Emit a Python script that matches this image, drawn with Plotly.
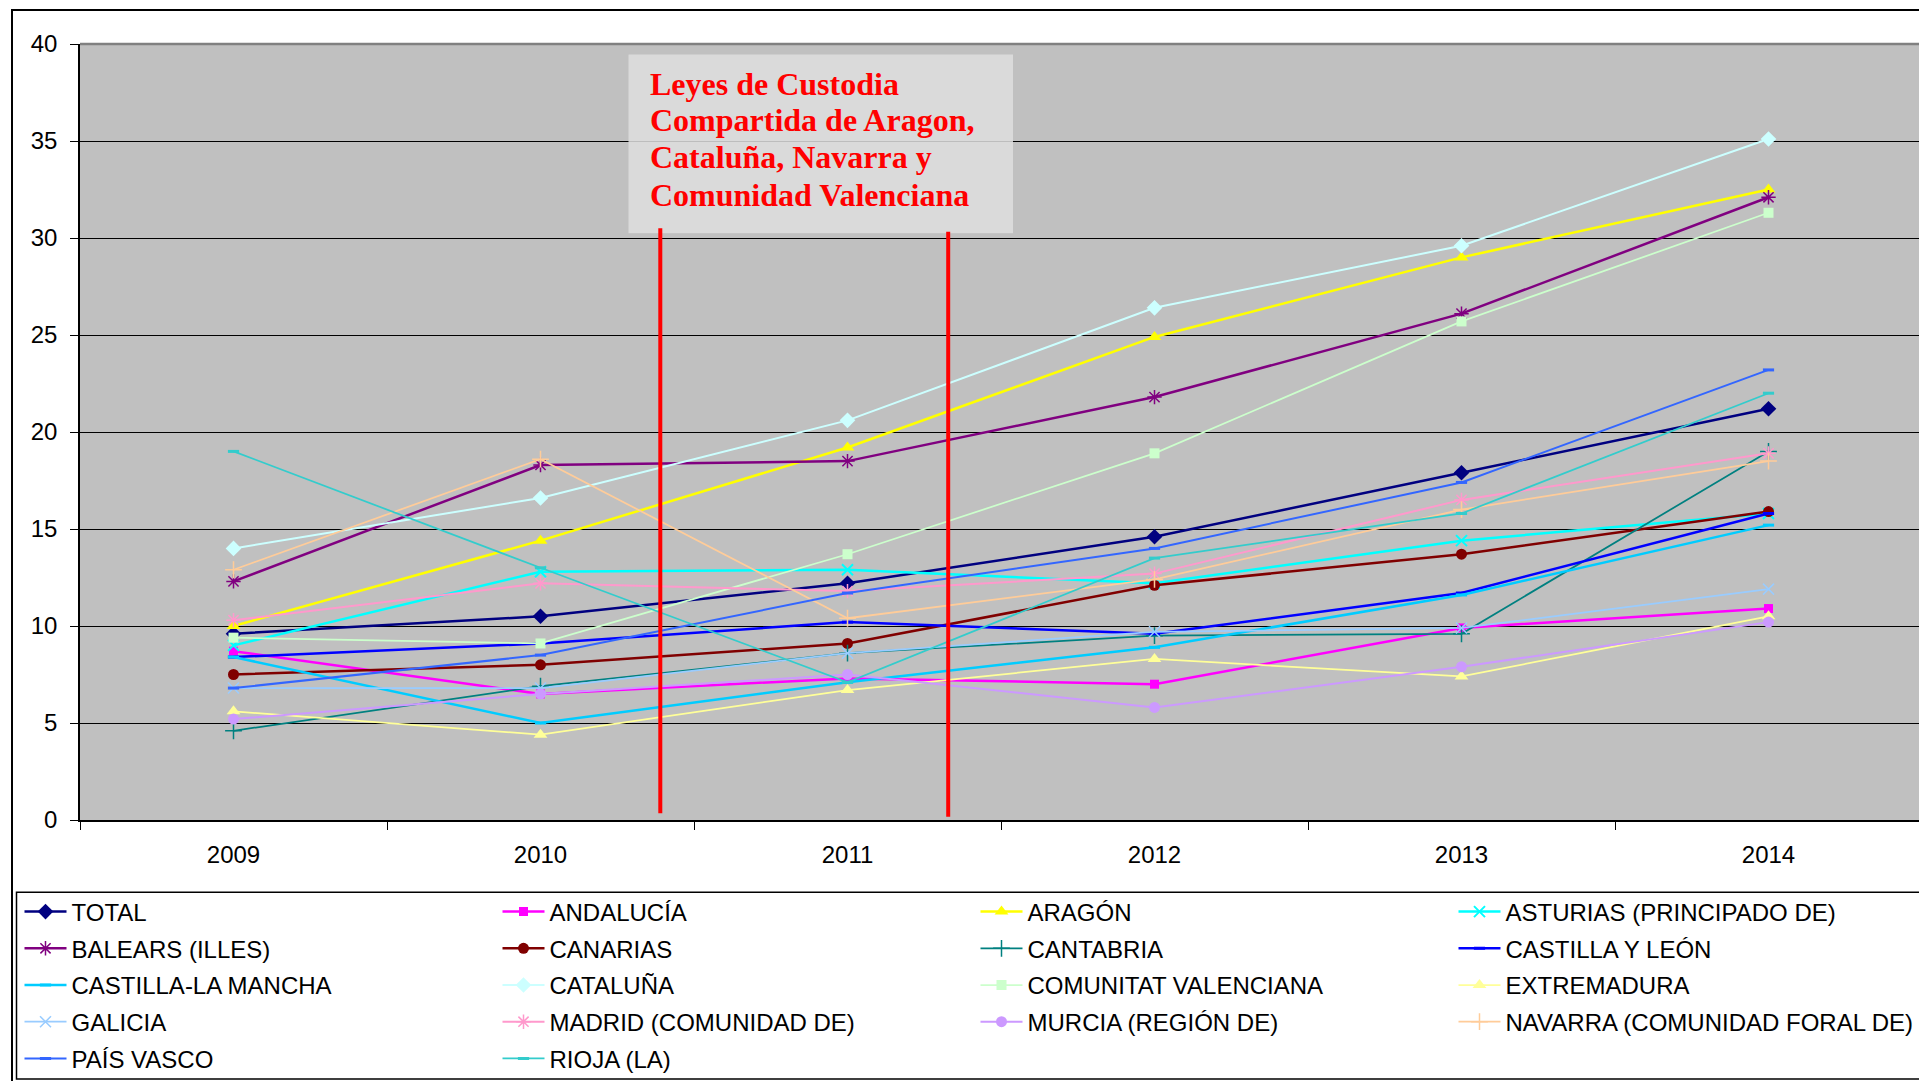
import plotly.graph_objects as go

# ---------------- data ----------------
years = ['2009', '2010', '2011', '2012', '2013', '2014']

region_names = [
    'TOTAL', 'ANDALUCÍA', 'ARAGÓN', 'ASTURIAS (PRINCIPADO DE)',
    'BALEARS (ILLES)', 'CANARIAS', 'CANTABRIA', 'CASTILLA Y LEÓN',
    'CASTILLA-LA MANCHA', 'CATALUÑA', 'COMUNITAT VALENCIANA', 'EXTREMADURA',
    'GALICIA', 'MADRID (COMUNIDAD DE)', 'MURCIA (REGIÓN DE)', 'NAVARRA (COMUNIDAD FORAL DE)',
    'PAÍS VASCO', 'RIOJA (LA)',
]

total = [9.6, 10.5, 12.2, 14.6, 17.9, 21.2]
andalucia = [8.7, 6.5, 7.3, 7.0, 9.9, 10.9]
aragon = [10.0, 14.4, 19.2, 24.9, 29.0, 32.5]
asturias = [9.0, 12.8, 12.9, 12.2, 14.4, 15.8]
baleares = [12.3, 18.3, 18.5, 21.8, 26.1, 32.1]
canarias = [7.5, 8.0, 9.1, 12.1, 13.7, 15.9]
cantabria = [4.6, 6.9, 8.6, 9.5, 9.6, 19.0]
castilla_leon = [8.4, 9.1, 10.2, 9.6, 11.7, 15.8]
castilla_mancha = [8.4, 5.0, 7.1, 8.9, 11.6, 15.2]
cataluna = [14.0, 16.6, 20.6, 26.4, 29.6, 35.1]
valenciana = [9.4, 9.1, 13.7, 18.9, 25.7, 31.3]
extremadura = [5.6, 4.4, 6.7, 8.3, 7.4, 10.5]
galicia = [6.8, 6.8, 8.6, 9.7, 9.9, 11.9]
madrid = [10.3, 12.2, 11.8, 12.7, 16.5, 18.9]
murcia = [5.2, 6.5, 7.5, 5.8, 7.9, 10.2]
navarra = [12.9, 18.6, 10.4, 12.4, 16.0, 18.5]
pais_vasco = [6.8, 8.5, 11.7, 14.0, 17.4, 23.2]
rioja = [19.0, 13.0, 7.1, 13.5, 15.8, 22.0]

series_values = [
    total, andalucia, aragon, asturias, baleares, canarias, cantabria,
    castilla_leon, castilla_mancha, cataluna, valenciana, extremadura,
    galicia, madrid, murcia, navarra, pais_vasco, rioja,
]

y_ticks = [0, 5, 10, 15, 20, 25, 30, 35, 40]

annotation_lines = [
    'Leyes de Custodia',
    'Compartida de Aragon,',
    'Cataluña, Navarra y',
    'Comunidad Valenciana',
]

# ---------------- styles ----------------
# (color, symbol, marker size, line width, open-symbol line width)
styles = [
    ('#000080', 'diamond', 12, 2.5, 0),
    ('#FF00FF', 'square', 9, 2.5, 0),
    ('#FFFF00', 'triangle-up', 12, 2.5, 0),
    ('#00FFFF', 'x-thin-open', 11, 2.5, 2),
    ('#800080', 'asterisk-open', 12, 2.5, 1.5),
    ('#800000', 'circle', 11, 2.5, 0),
    ('#008080', 'cross-thin-open', 12, 1.75, 1.5),
    ('#0000FF', 'line-ew-open', 8, 2.5, 3),
    ('#00CCFF', 'line-ew-open', 8, 2.5, 3),
    ('#CCFFFF', 'diamond', 12, 2.0, 0),
    ('#CCFFCC', 'square', 10, 1.75, 0),
    ('#FFFF99', 'triangle-up', 12, 1.75, 0),
    ('#99CCFF', 'x-thin-open', 11, 1.75, 1.5),
    ('#FF99CC', 'asterisk-open', 12, 2.0, 1.5),
    ('#CC99FF', 'circle', 11, 2.0, 0),
    ('#FFCC99', 'cross-thin-open', 12, 1.75, 1.5),
    ('#3366FF', 'line-ew-open', 8, 2.0, 3),
    ('#33CCCC', 'line-ew-open', 8, 1.75, 3),
]

W, H = 1919, 1081
PLOT_L, PLOT_T, PLOT_B = 80, 44, 820
ML, MT, MB, MR = PLOT_L, PLOT_T, H - PLOT_B, 0
PW, PH = W - ML - MR, H - MT - MB
CAT_PX = 307.0
X_MAX = -0.5 + PW / CAT_PX


def paper_x(px):
    return (px - PLOT_L) / PW


def paper_y(py):
    return (PLOT_B - py) / PH


def data_x(px):
    return -0.5 + (px - PLOT_L) / CAT_PX


def data_y(py):
    return (PLOT_B - py) / PH * 40.0


FONT = 'Liberation Sans, Arial, sans-serif'

fig = go.Figure()

legend_names = ['legend', 'legend2', 'legend3', 'legend4', 'legend5']

for i, (name, vals) in enumerate(zip(region_names, series_values)):
    color, symbol, msize, lw, mlw = styles[i]
    marker = dict(symbol=symbol, size=msize, color=color)
    if mlw:
        marker['line'] = dict(color=color, width=mlw)
    else:
        marker['line'] = dict(width=0)
    fig.add_trace(go.Scatter(
        x=years, y=vals, name=name, mode='lines+markers',
        line=dict(color=color, width=lw),
        marker=marker,
        legend=legend_names[i // 4],
    ))

# legends: one per row, 4 items per row
row_centers = [912.0, 948.7, 985.4, 1022.1, 1058.8]
legend_common = dict(
    orientation='h', x=paper_x(19.5), xanchor='left', yanchor='middle',
    font=dict(family=FONT, size=24, color='black'),
    itemwidth=42, entrywidth=421, entrywidthmode='pixels',
    bgcolor='rgba(0,0,0,0)', borderwidth=0, tracegroupgap=0,
    itemclick=False, itemdoubleclick=False,
)
legend_layout = {}
for k, ln in enumerate(legend_names):
    legend_layout[ln] = dict(legend_common, y=paper_y(row_centers[k]))

shapes = [
    # outer chart border
    dict(type='rect', xref='paper', yref='paper',
         x0=paper_x(12), x1=paper_x(1930), y0=paper_y(10), y1=paper_y(1090),
         line=dict(color='black', width=2), fillcolor='rgba(0,0,0,0)', layer='above'),
    # legend border
    dict(type='rect', xref='paper', yref='paper',
         x0=paper_x(16.5), x1=paper_x(1930), y0=paper_y(892.3), y1=paper_y(1079),
         line=dict(color='black', width=1.5), fillcolor='rgba(0,0,0,0)', layer='above'),
    # plot area top border
    dict(type='line', xref='paper', yref='paper', x0=0, x1=1, y0=1, y1=1,
         line=dict(color='#808080', width=2.5), layer='above'),
    # annotation box
    dict(type='rect', xref='x', yref='y',
         x0=data_x(628.5), x1=data_x(1013), y0=data_y(54.5), y1=data_y(233.3),
         line=dict(width=0), fillcolor='rgba(222,222,222,0.85)', layer='above'),
    # red vertical markers
    dict(type='line', xref='x', yref='y',
         x0=data_x(660.3), x1=data_x(660.3), y0=data_y(228.3), y1=data_y(813.3),
         line=dict(color='#FF0000', width=4), layer='above'),
    dict(type='line', xref='x', yref='y',
         x0=data_x(948.2), x1=data_x(948.2), y0=data_y(231.7), y1=data_y(816.7),
         line=dict(color='#FF0000', width=4), layer='above'),
]

line_centers = [84.2, 120.3, 157.2, 194.7]
annotations = []
for txt, cy in zip(annotation_lines, line_centers):
    annotations.append(dict(
        text=txt, xref='x', yref='y', x=data_x(647.5), y=data_y(cy),
        xanchor='left', yanchor='middle', showarrow=False,
        font=dict(family='Liberation Serif, Times New Roman, serif', size=32,
                  color='#FF0000', weight='bold'),
    ))

fig.update_layout(
    width=W, height=H,
    margin=dict(l=ML, r=MR, t=MT, b=MB, pad=0, autoexpand=False),
    paper_bgcolor='white', plot_bgcolor='#C0C0C0',
    font=dict(family=FONT, size=24, color='black'),
    showlegend=True,
    shapes=shapes, annotations=annotations,
    **legend_layout,
)

fig.update_xaxes(
    type='category', range=[-0.5, X_MAX], tickson='boundaries',
    ticks='outside', ticklen=8, tickwidth=1, tickcolor='black',
    showline=True, linecolor='black', linewidth=1.5,
    showgrid=False, zeroline=False, ticklabelstandoff=12,
    tickfont=dict(family=FONT, size=24, color='black'),
)
fig.update_yaxes(
    range=[0, 40], tickvals=y_ticks,
    ticks='outside', ticklen=8, tickwidth=1, tickcolor='black',
    showline=True, linecolor='black', linewidth=1.5,
    showgrid=True, gridcolor='black', gridwidth=1, zeroline=False,
    ticklabelstandoff=8,
    tickfont=dict(family=FONT, size=24, color='black'),
)

page_css = ("document.body.style.margin='0px';"
            "document.body.style.padding='0px';"
            "document.documentElement.style.overflow='hidden';")

fig.write_html('out.html', post_script=page_css,
               config={'displayModeBar': False})
